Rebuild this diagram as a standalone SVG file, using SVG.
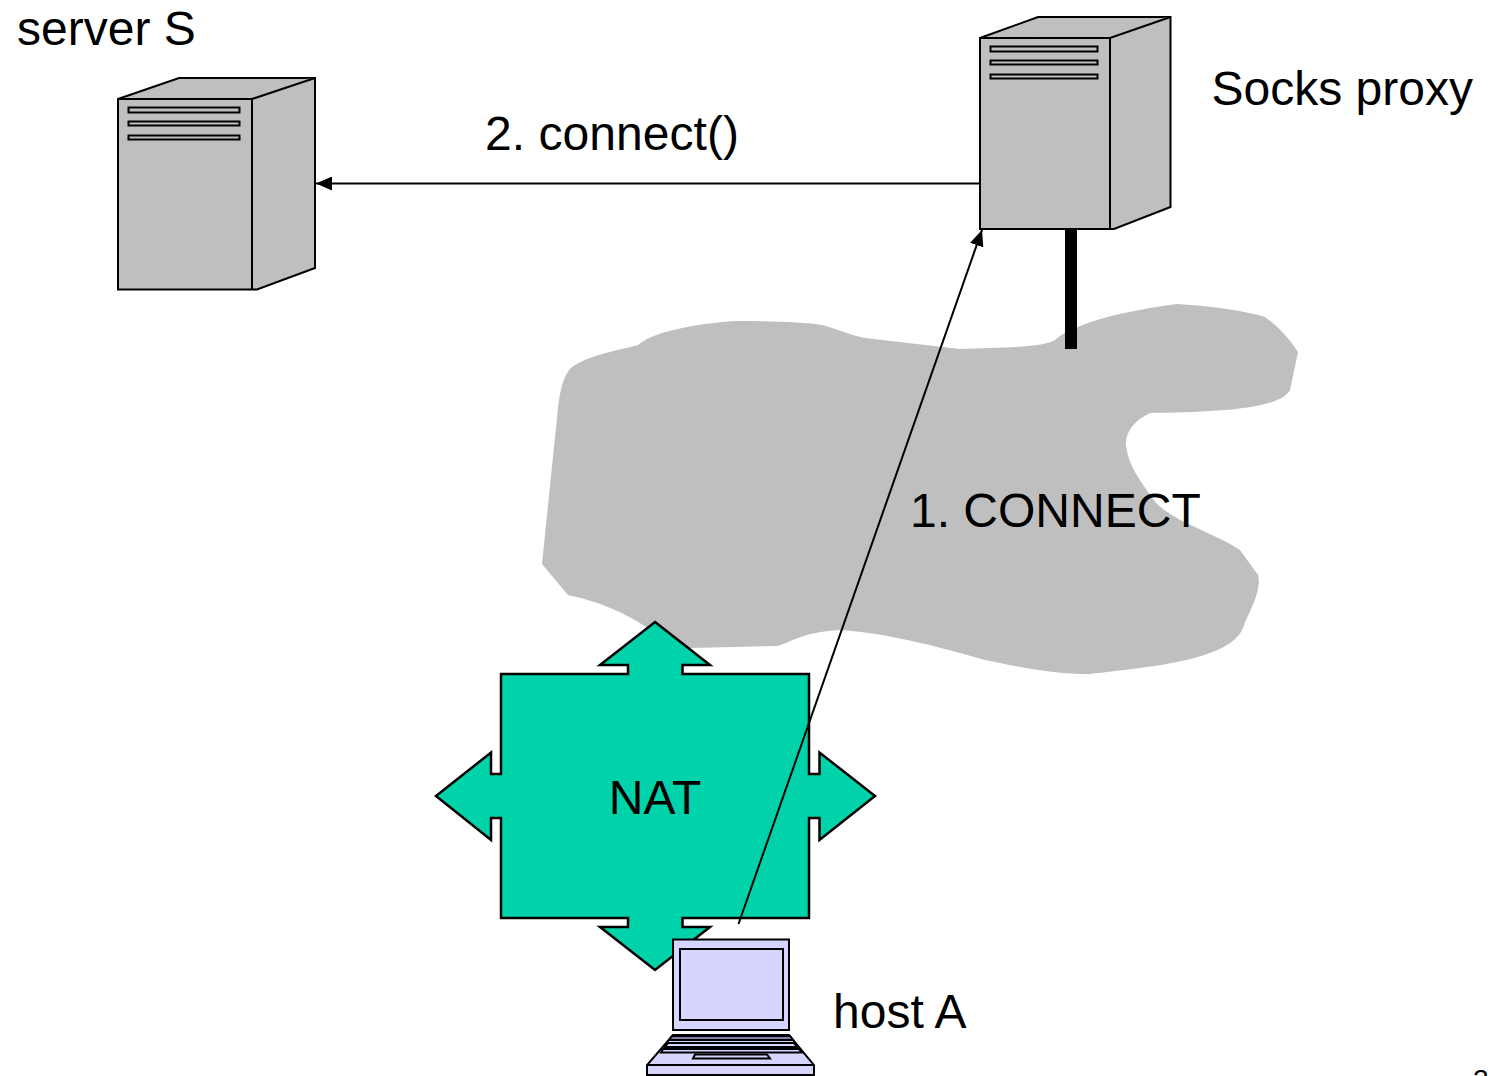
<svg xmlns="http://www.w3.org/2000/svg" width="1488" height="1076" viewBox="0 0 1488 1076">
<defs>
<style>
text{font-family:"Liberation Sans",Arial,sans-serif;font-size:48px;fill:#000}
.srv{fill:#bfbfbf;stroke:#000;stroke-width:2;stroke-linejoin:miter}
.lap{fill:#d5d5ff;stroke:#000;stroke-width:2}
.con{fill:none;stroke:#000;stroke-width:2}
</style>
<marker id="ah" markerUnits="userSpaceOnUse" markerWidth="18" markerHeight="14" refX="16" refY="7" orient="auto"><path d="M0 0L16 7L0 14Z" fill="#000"/></marker>
</defs>
<rect width="1488" height="1076" fill="#fff"/>
<g id="cloud"><path fill="#bfbfbf" d="M542 564L558 408C561 385 564 375 572 367C590 355 615 351 638 345C655 331 695 324 735 321C770 321 805 322 822 325C840 330 850 335 865 338L960 349C1000 348 1045 347 1055 340C1075 322 1130 310 1177 304C1215 306 1250 312 1265 317C1280 328 1290 340 1298 352L1290 390C1280 410 1210 412 1150 413C1135 420 1125 432 1126 445C1128 465 1140 480 1150 495C1165 520 1210 530 1240 550L1258 575C1262 590 1250 610 1244 625C1235 660 1150 667 1090 674C1050 674 1015 666 985 660C950 650 890 633 840 630C805 632 795 640 778 646L690 648C660 645 640 610 568 595Z"/></g>
<g id="link"><rect x="1065" y="229" width="12" height="120" fill="#000"/></g>
<g id="server-s">
<path class="srv" d="M118 99L179 78H315V268L257 289.500H118Z"/>
<path class="srv" d="M118 99H252L315 78M252 99V289.500"/>
<rect class="srv" x="128.500" y="107.500" width="111" height="5"/>
<rect class="srv" x="128.500" y="121.500" width="111" height="4"/>
<rect class="srv" x="128.500" y="135.500" width="111" height="4"/>
<text x="17" y="45">server S</text>
</g>
<g id="socks-proxy">
<path class="srv" d="M980 38L1038 17H1170.500V207L1114 229H980Z"/>
<path class="srv" d="M980 38H1110L1170.500 17M1110 38V229"/>
<rect class="srv" x="990.500" y="46.500" width="107" height="5"/>
<rect class="srv" x="990.500" y="60.500" width="107" height="4"/>
<rect class="srv" x="990.500" y="74.500" width="107" height="4"/>
<text x="1211.500" y="105">Socks proxy</text>
</g>
<g id="nat">
<path fill="#00d3aa" stroke="#000" stroke-width="2.500" d="M655 622L710 665H682.500V674H809V774H819.500V752.500L875 796L819.500 840V818H809V918H682.500V927H710L655 970L600 927H628V918H501V818H491V840L436 796L491 752.500V774H501V674H628V665H600Z"/>
<text x="655" y="814" text-anchor="middle">NAT</text>
</g>
<g id="host-a">
<rect class="lap" x="673" y="939.500" width="116" height="90.500"/>
<rect class="lap" x="680" y="949" width="103" height="71"/>
<path class="lap" d="M673 1035H789L814 1065V1075H647V1065Z"/>
<path class="con" d="M647 1065H814"/>
<path fill="#8080a8" stroke="#000" stroke-width="2" d="M672 1036H790L793 1040H669Z"/>
<path class="lap" d="M668 1043H794L797 1047H665Z"/>
<path class="lap" d="M663 1049H799L802 1052.500H661Z"/>
<path class="lap" d="M695 1054.500H767L770 1058.500H693Z"/>
<text x="833" y="1028">host A</text>
</g>
<g id="connectors">
<path class="con" d="M980 183.500H316" marker-end="url(#ah)"/>
<path class="con" d="M738.500 924L982 230" marker-end="url(#ah)"/>
</g>
<g id="labels">
<text x="485" y="150" textLength="254">2. connect()</text>
<text x="910" y="527">1. CONNECT</text>
<text x="1473" y="1089" style="font-size:28px">2</text>
</g>
</svg>
